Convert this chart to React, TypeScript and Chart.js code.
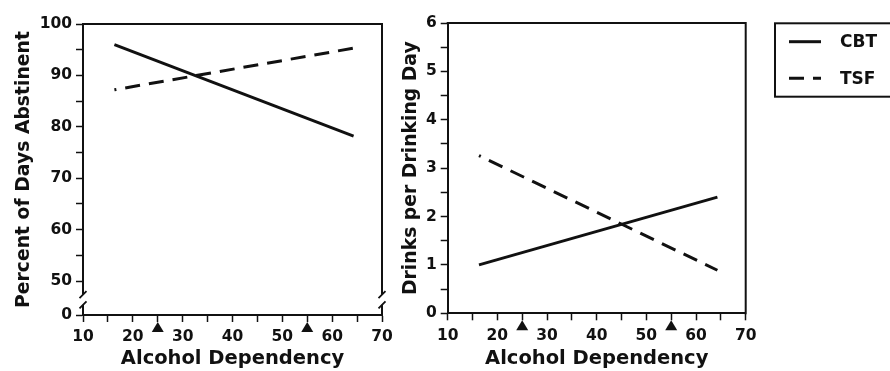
import React, { useEffect, useRef } from 'react';
import { Chart, registerables } from 'chart.js';

Chart.register(...registerables);

// ---------- data ----------
const dependency = [16.3, 64.3];
const seriesNames = ['CBT', 'TSF'];
const pdaCBT = [96.0, 78.2];
const pdaTSF = [87.2, 95.3];
const ddCBT = [1.0, 2.4];
const ddTSF = [3.26, 0.89];
const xTickLabels = [10, 20, 30, 40, 50, 60, 70];
const pdaTickLabels = [0, 50, 60, 70, 80, 90, 100];
const ddTickLabels = [0, 1, 2, 3, 4, 5, 6];
const markerX = [25, 55];
const xTitle = 'Alcohol Dependency';
const pdaTitle = 'Percent of Days Abstinent';
const ddTitle = 'Drinks per Drinking Day';

// ---------- style ----------
const INK = '#111';
const FONT = 'DejaVu Sans';
const BREAK_FLOOR = 43.4; // bottom of the broken scale, labelled "0"
const DASH = [15, 9];

Chart.defaults.font.family = FONT;

function makeDatasets(cbt: number[], tsf: number[]) {
  return [
    {
      label: seriesNames[0],
      data: dependency.map((x, i) => ({ x, y: cbt[i] })),
      borderColor: INK,
      borderWidth: 3,
      pointRadius: 0,
      borderCapStyle: 'butt',
      fill: false,
      tension: 0,
    },
    {
      label: seriesNames[1],
      data: dependency.map((x, i) => ({ x, y: tsf[i] })),
      borderColor: INK,
      borderWidth: 3,
      pointRadius: 0,
      borderCapStyle: 'butt',
      borderDash: DASH,
      borderDashOffset: 13,
      fill: false,
      tension: 0,
    },
  ];
}

const framePlugin = {
  id: 'frame',
  afterDraw(chart: any, _args: any, opts: any) {
    const { ctx } = chart;
    const { left, right, top, bottom } = chart.chartArea;
    ctx.save();
    ctx.strokeStyle = INK;
    ctx.lineWidth = 2;
    ctx.beginPath();
    ctx.moveTo(left - 1, top);
    ctx.lineTo(right, top);
    ctx.lineTo(right, bottom + 1);
    ctx.stroke();
    if (opts && opts.breakAt != null) {
      const p = chart.scales.y.getPixelForValue(opts.breakAt);
      const g1 = p + (bottom - p) * 0.4;
      const g2 = p + (bottom - p) * 0.7;
      for (const x of [left, right]) {
        ctx.fillStyle = '#fff';
        ctx.fillRect(x - 3, g1, 6, g2 - g1);
        ctx.lineWidth = 1.8;
        ctx.beginPath();
        ctx.moveTo(x - 3.5, g1 + 3.5);
        ctx.lineTo(x + 3.5, g1 - 3.5);
        ctx.moveTo(x - 3.5, g2 + 3.5);
        ctx.lineTo(x + 3.5, g2 - 3.5);
        ctx.stroke();
      }
    }
    ctx.restore();
  },
};

const markerPlugin = {
  id: 'markers',
  afterDraw(chart: any) {
    const { ctx } = chart;
    const xs = chart.scales.x;
    const b = chart.chartArea.bottom;
    ctx.save();
    ctx.fillStyle = INK;
    for (const m of markerX) {
      const px = xs.getPixelForValue(m);
      ctx.beginPath();
      ctx.moveTo(px, b + 7);
      ctx.lineTo(px + 6, b + 17);
      ctx.lineTo(px - 6, b + 17);
      ctx.closePath();
      ctx.fill();
    }
    ctx.restore();
  },
};

const boxLegendPlugin = {
  id: 'boxLegend',
  afterDraw(chart: any, _args: any, opts: any) {
    if (!opts || !opts.show) return;
    const { ctx } = chart;
    const { right, top } = chart.chartArea;
    const bx = right + 29.3;
    const by = top + 0.3;
    ctx.save();
    ctx.strokeStyle = INK;
    ctx.lineWidth = 2;
    ctx.strokeRect(bx, by, chart.width, 73.4);
    ctx.font = `bold 17px "${FONT}"`;
    ctx.fillStyle = INK;
    ctx.textBaseline = 'middle';
    ctx.textAlign = 'left';
    chart.data.datasets.forEach((ds: any, i: number) => {
      const ly = by + 18.4 + i * 36.6;
      ctx.lineWidth = 3;
      ctx.setLineDash(ds.borderDash || []);
      ctx.beginPath();
      ctx.moveTo(bx + 14, ly);
      ctx.lineTo(bx + 46, ly);
      ctx.stroke();
      ctx.setLineDash([]);
      ctx.fillText(ds.label, bx + 65, ly + 1);
    });
    ctx.restore();
  },
};

function xScale(height: number) {
  return {
    type: 'linear',
    min: xTickLabels[0],
    max: xTickLabels[xTickLabels.length - 1],
    ticks: {
      stepSize: 5,
      autoSkip: false,
      maxRotation: 0,
      color: INK,
      padding: 6,
      font: { size: 15.5, weight: 'bold', family: FONT },
      callback: (v: number) => (xTickLabels.includes(v) ? String(v) : ''),
    },
    grid: { drawOnChartArea: false, tickLength: 7, tickWidth: 1.5, tickColor: INK },
    border: { color: INK, width: 2 },
    title: {
      display: true,
      text: xTitle,
      color: INK,
      padding: 0,
      font: { size: 19.5, weight: 'bold', family: FONT },
    },
    afterFit: (s: any) => {
      s.height = height;
    },
  };
}

function yCommon(width: number, title: string) {
  return {
    type: 'linear',
    grid: { drawOnChartArea: false, tickLength: 7, tickWidth: 1.5, tickColor: INK },
    border: { color: INK, width: 2 },
    title: {
      display: true,
      text: title,
      color: INK,
      padding: 0,
      font: { size: 18.8, weight: 'bold', family: FONT },
    },
    afterFit: (s: any) => {
      s.width = width;
    },
  };
}

const tickFont = { size: 15.5, weight: 'bold', family: FONT };

function leftConfig(): any {
  return {
    type: 'line',
    data: { datasets: makeDatasets(pdaCBT, pdaTSF) },
    plugins: [framePlugin, markerPlugin],
    options: {
      animation: false,
      responsive: false,
      layout: { padding: { left: 13, top: 24, right: 18, bottom: 0 } },
      plugins: {
        legend: { display: false },
        tooltip: { enabled: false },
        frame: { breakAt: pdaTickLabels[1] },
      },
      scales: {
        x: xScale(56),
        y: {
          ...yCommon(70, pdaTitle),
          min: BREAK_FLOOR,
          max: pdaTickLabels[pdaTickLabels.length - 1],
          afterBuildTicks: (s: any) => {
            const t: any[] = [{ value: BREAK_FLOOR }];
            for (let v = pdaTickLabels[1]; v <= pdaTickLabels[pdaTickLabels.length - 1]; v += 5) t.push({ value: v });
            s.ticks = t;
          },
          ticks: {
            autoSkip: false,
            color: INK,
            padding: 4,
            font: tickFont,
            callback: (v: number) =>
              v < pdaTickLabels[1] ? String(pdaTickLabels[0]) : pdaTickLabels.includes(v) ? String(v) : '',
          },
        },
      },
    },
  };
}

function rightConfig(): any {
  return {
    type: 'line',
    data: { datasets: makeDatasets(ddCBT, ddTSF) },
    plugins: [framePlugin, markerPlugin, boxLegendPlugin],
    options: {
      animation: false,
      responsive: false,
      layout: { padding: { left: 0, top: 23, right: 144.3, bottom: 0 } },
      plugins: {
        legend: { display: false },
        tooltip: { enabled: false },
        frame: {},
        boxLegend: { show: true },
      },
      scales: {
        x: xScale(57.7),
        y: {
          ...yCommon(47.7, ddTitle),
          min: ddTickLabels[0],
          max: ddTickLabels[ddTickLabels.length - 1],
          ticks: {
            stepSize: 0.5,
            autoSkip: false,
            color: INK,
            padding: 4,
            font: tickFont,
            callback: (v: number) => (ddTickLabels.includes(v) ? String(v) : ''),
          },
        },
      },
    },
  };
}

function ChartCanvas({ make, width, height, left }: { make: () => any; width: number; height: number; left: number }) {
  const ref = useRef<HTMLCanvasElement | null>(null);
  useEffect(() => {
    const c = new Chart(ref.current as HTMLCanvasElement, make());
    return () => c.destroy();
  }, []);
  return (
    <canvas
      ref={ref}
      width={width}
      height={height}
      style={{ position: 'absolute', left, top: 0, width, height }}
    />
  );
}

export default function App() {
  return (
    <div style={{ position: 'absolute', left: 0, top: 0, width: 890, height: 371, background: '#fff', overflow: 'hidden' }}>
      <ChartCanvas make={leftConfig} width={400} height={371} left={0} />
      <ChartCanvas make={rightConfig} width={490} height={371} left={400} />
    </div>
  );
}
